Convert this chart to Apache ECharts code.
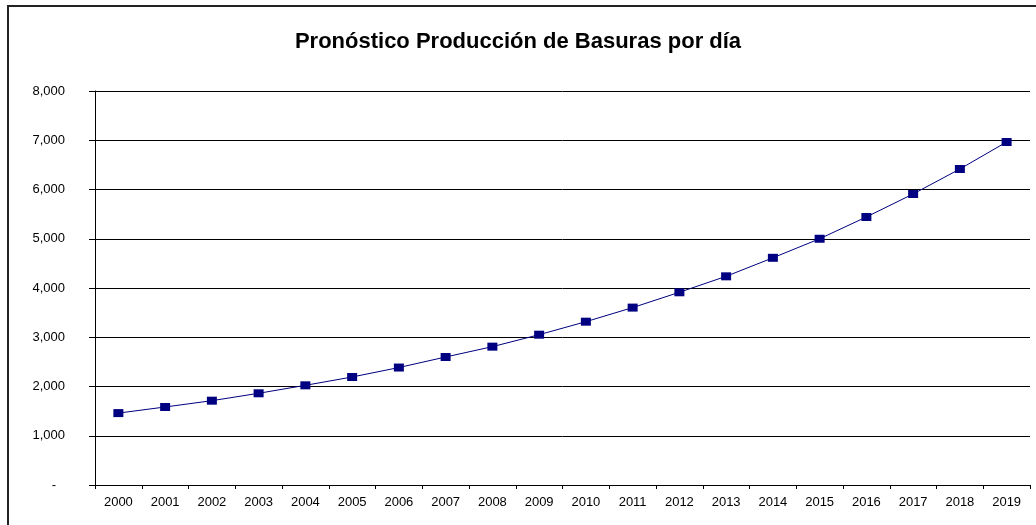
<!DOCTYPE html>
<html>
<head>
<meta charset="utf-8">
<script src="https://cdn.jsdelivr.net/npm/echarts@6/dist/echarts.min.js"></script>
<style>html,body{margin:0;padding:0;background:#fff;}#c{width:1036px;height:525px;}</style>
</head>
<body>
<div id="c"></div>
<script>
var titleText = 'Pronóstico Producción de Basuras por día';
var years = ['2000','2001','2002','2003','2004','2005','2006','2007','2008','2009','2010','2011','2012','2013','2014','2015','2016','2017','2018','2019'];
var production = [1460, 1584, 1712, 1862, 2024, 2193, 2385, 2599, 2809, 3052, 3316, 3602, 3913, 4237, 4613, 5000, 5442, 5909, 6416, 6965];
var yTicks = [0, 1000, 2000, 3000, 4000, 5000, 6000, 7000, 8000];

var chart = echarts.init(document.getElementById('c'), null, {renderer: 'canvas'});
var font = 'Liberation Sans, Arial, sans-serif';
chart.setOption({
  backgroundColor: '#fff',
  animation: false,
  title: {
    text: titleText,
    left: 'center',
    top: 26,
    textStyle: {fontFamily: font, fontWeight: 'bold', fontSize: 22, color: '#000'}
  },
  graphic: [{
    type: 'rect',
    shape: {x: 8, y: 6, width: 1100, height: 600},
    style: {fill: 'none', stroke: '#222', lineWidth: 2},
    silent: true
  }],
  grid: {left: 95, right: 6, top: 91, bottom: 40, containLabel: false},
  xAxis: {
    type: 'category',
    data: years,
    boundaryGap: true,
    axisLine: {lineStyle: {color: '#000', width: 1}},
    axisTick: {show: true, length: 4, lineStyle: {color: '#000'}},
    axisLabel: {fontFamily: font, fontSize: 13, color: '#000', margin: 11}
  },
  yAxis: {
    type: 'value',
    min: yTicks[0],
    max: yTicks[yTicks.length - 1],
    interval: 1000,
    axisLine: {show: true, lineStyle: {color: '#000', width: 1}},
    axisTick: {show: true, length: 6, lineStyle: {color: '#000'}},
    splitLine: {show: true, lineStyle: {color: '#000', width: 1}},
    axisLabel: {
      fontFamily: font, fontSize: 13, color: '#000', margin: 30,
      formatter: function (v) {
        if (v === 0) return '{d|-}';
        return v.toLocaleString('en-US');
      },
      rich: {d: {fontFamily: font, fontSize: 13, color: '#000', padding: [0, 9, 0, 0]}}
    }
  },
  series: [{
    type: 'line',
    data: production,
    symbol: 'rect',
    symbolSize: [10, 8],
    lineStyle: {color: '#000080', width: 1},
    itemStyle: {color: '#000080'}
  }]
});
</script>
</body>
</html>
